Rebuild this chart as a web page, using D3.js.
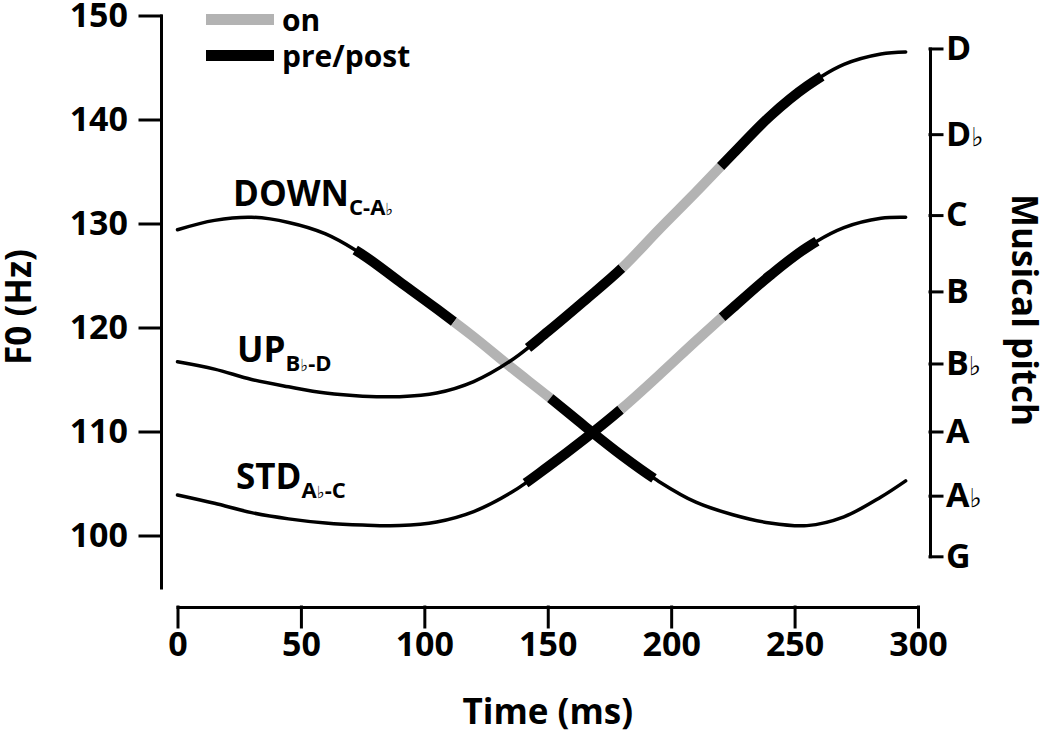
<!DOCTYPE html>
<html><head><meta charset="utf-8">
<script src="https://cdn.jsdelivr.net/npm/d3@7"></script>
<style>
body{margin:0;background:#fff}
text{font-family:"Open Sans",sans-serif;font-weight:700;fill:#000}
</style>
</head><body>
<svg id="c" width="1050" height="735"></svg>
<script>
// ---- data ----
const times  = [0,15,30,45,60,75,90,105,120,135,150,165,180,195,210,225,240,255,270,285,295];
const downHz = [129.4,130.3,130.6,130.1,129.0,127.0,124.4,121.8,119.1,116.2,113.4,110.5,107.7,105.2,103.2,102.0,101.2,100.95,101.8,103.7,105.25];
const upHz   = [116.7,116.0,115.0,114.3,113.7,113.4,113.35,113.7,114.8,116.8,119.6,122.6,125.7,129.4,133.0,136.7,140.3,143.2,145.3,146.3,146.5];
const stdHz  = [103.9,103.1,102.2,101.6,101.2,101.0,100.95,101.3,102.3,104.1,106.6,109.3,112.2,115.4,118.7,121.9,125.0,127.7,129.6,130.5,130.6];
// segment boundaries (ms): pre start, on start, post start, post end
const downSegs = [72,112,151,193];
const upSegs   = [142,180,220,261];
const stdSegs  = [141,179.5,220.6,259];
const xTicks = [0,50,100,150,200,250,300];
const yMajorTicks = [100,110,120,130,140,150];
const yMinorTicks = [95,105,115,125,135,145];
const pitchHz    = [98.00,103.83,110.00,116.54,123.47,130.81,138.59,146.83];
const pitchNames = ["G","A♭","A","B♭","B","C","D♭","D"];
const legendLabels = ["on","pre/post"];

// ---- drawing ----
const GRAY = "#b3b3b3";
const svg = d3.select("#c");
const x = d3.scaleLinear().domain([0,300]).range([177.5,918]);
const y = d3.scaleLinear().domain([95,150]).range([587.5,15.5]);

function styleAxis(g, fs){
  g.attr("font-family",null).attr("font-size",null);
  g.selectAll("path,line").attr("stroke","#000").attr("stroke-width",3).attr("stroke-linecap","square");
  g.selectAll("text").style("font-size",fs+"px");
}

// left axis
const gl = svg.append("g").attr("transform","translate(161,0)");
gl.call(d3.axisLeft(y).tickValues(yMinorTicks).tickSize(12).tickSizeOuter(0).tickFormat(""));
gl.call(d3.axisLeft(y).tickValues(yMajorTicks).tickSize(21).tickPadding(12).tickSizeOuter(0));
styleAxis(gl,34);

// bottom axis
const gb = svg.append("g").attr("transform","translate(0,607)");
gb.call(d3.axisBottom(x).tickValues(xTicks).tickSize(20).tickPadding(5).tickSizeOuter(0));
styleAxis(gb,34);

// right axis (pitch)
const yP = d3.scaleLinear().domain([pitchHz[0],pitchHz[pitchHz.length-1]])
  .range([y(pitchHz[0]),y(pitchHz[pitchHz.length-1])]);
const gr = svg.append("g").attr("transform","translate(930,0)");
gr.call(d3.axisRight(yP).tickValues(pitchHz).tickSize(12).tickPadding(4).tickSizeOuter(0).tickFormat(""));
styleAxis(gr,34);
gr.selectAll(".tick text").each(function(d,i){
  const t = d3.select(this);
  const name = pitchNames[i];
  t.append("tspan").text(name[0]);
  if(name.length>1){
    t.append("tspan").text(name.slice(1))
      .style("font-family","DejaVu Sans").style("font-weight","400").style("font-size","26px");
  }
});

// axis titles
svg.append("text").attr("transform","translate(31,307) rotate(-90)")
  .attr("text-anchor","middle").style("font-size","35px").text("F0 (Hz)");
svg.append("text").attr("transform","translate(1012,310) rotate(90)")
  .attr("text-anchor","middle").style("font-size","35px").text("Musical pitch");
svg.append("text").attr("x",x(150)).attr("y",724)
  .attr("text-anchor","middle").style("font-size","35px").text("Time (ms)");

// curves
const line = d3.line().x(d=>x(d[0])).y(d=>y(d[1])).curve(d3.curveCatmullRom.alpha(0.5));
const curves = [
  {vals:downHz, segs:downSegs},
  {vals:upHz, segs:upSegs},
  {vals:stdHz, segs:stdSegs}
];
const gThick = svg.append("g");
const gThin = svg.append("g");

function lengthAtX(node, px){
  let lo=0, hi=node.getTotalLength();
  for(let k=0;k<40;k++){
    const mid=(lo+hi)/2;
    if(node.getPointAtLength(mid).x < px) lo=mid; else hi=mid;
  }
  return (lo+hi)/2;
}

curves.forEach(c=>{
  const pts = times.map((t,i)=>[t,c.vals[i]]);
  const dStr = line(pts);
  const thin = gThin.append("path").attr("d",dStr).attr("fill","none")
    .attr("stroke","#000").attr("stroke-width",3.5).attr("stroke-linecap","round");
  const node = thin.node();
  const L = node.getTotalLength();
  const ls = c.segs.map(t=>lengthAtX(node,x(t)));
  thin.attr("stroke-dasharray",`${ls[0]} ${ls[3]-ls[0]} ${L}`);
  const parts = [[0,1,"#000"],[1,2,GRAY],[2,3,"#000"]];
  parts.forEach(([a,b,col])=>{
    gThick.append("path").attr("d",dStr).attr("fill","none")
      .attr("stroke",col).attr("stroke-width",10).attr("stroke-linecap","butt")
      .attr("stroke-dasharray",`0 ${ls[a]} ${ls[b]-ls[a]} ${L}`);
  });
});

// curve labels
function curveLabel(px,py,main,subParts){
  const t = svg.append("text").attr("x",px).attr("y",py).style("font-size","35px");
  t.append("tspan").text(main);
  subParts.forEach((s,i)=>{
    const ts = t.append("tspan").text(s.t);
    if(s.flat) ts.style("font-family","DejaVu Sans").style("font-weight","400").style("font-size","17px");
    else ts.style("font-size","22px");
    if(i===0) ts.attr("dy",9);
  });
}
curveLabel(233,206,"DOWN",[{t:"C-A"},{t:"♭",flat:true}]);
curveLabel(237,362,"UP",[{t:"B"},{t:"♭",flat:true},{t:"-D"}]);
curveLabel(236,489,"STD",[{t:"A"},{t:"♭",flat:true},{t:"-C"}]);

// legend
const legendColors = [GRAY,"#000"];
const legendY = [19.5,55.5];
legendLabels.forEach((lab,i)=>{
  svg.append("line").attr("x1",206).attr("x2",274).attr("y1",legendY[i]).attr("y2",legendY[i])
    .attr("stroke",legendColors[i]).attr("stroke-width",11);
  svg.append("text").attr("x",282).attr("y",legendY[i]+11).style("font-size","30px").text(lab);
});
</script>
</body></html>
